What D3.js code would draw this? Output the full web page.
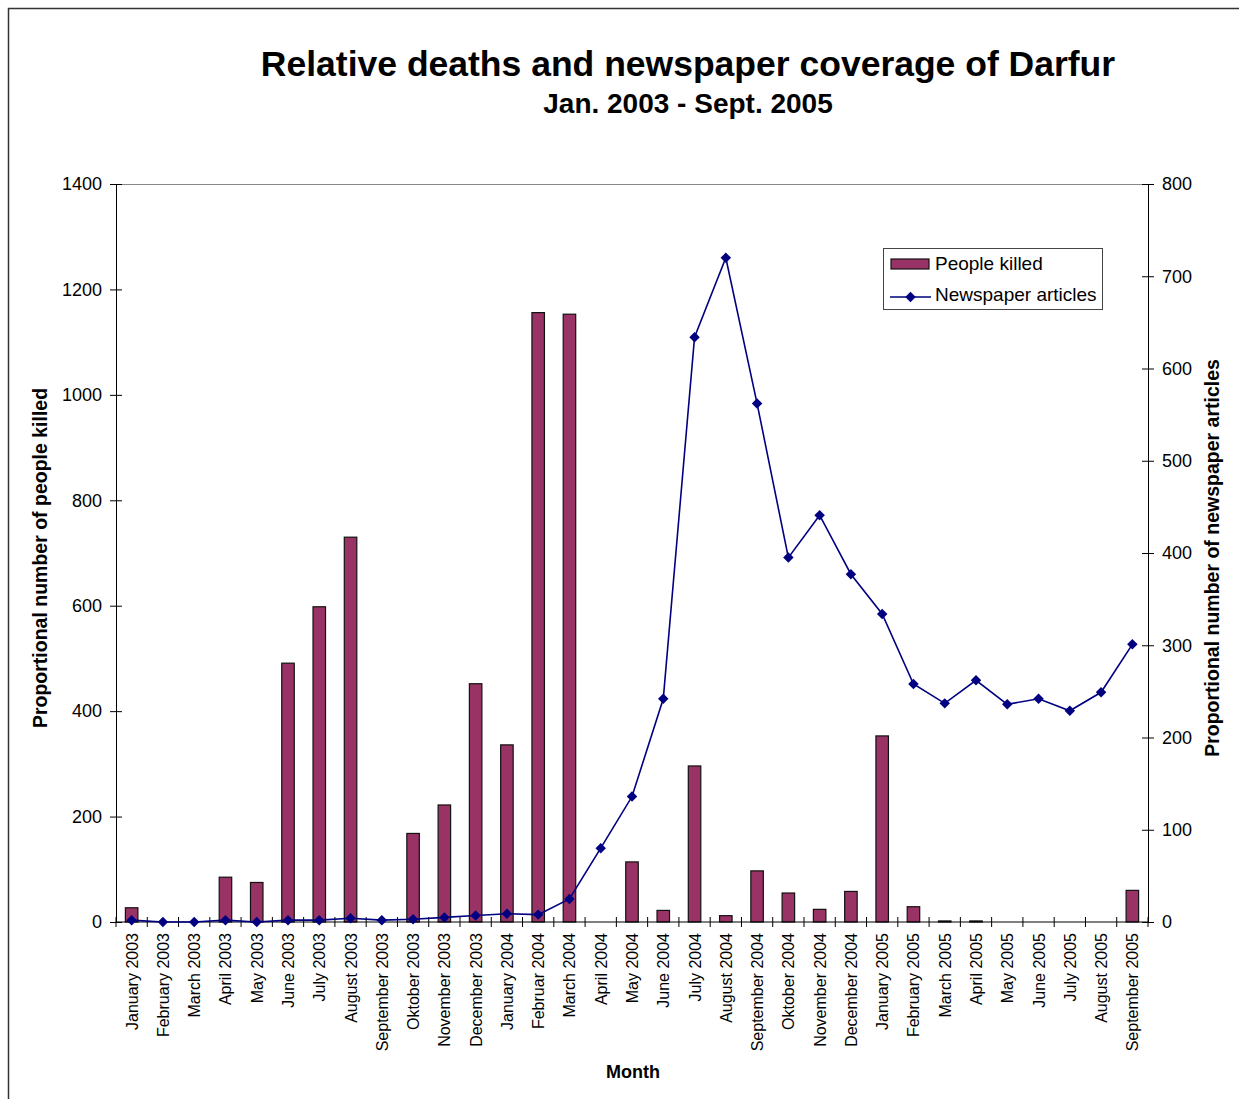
<!DOCTYPE html>
<html>
<head>
<meta charset="utf-8">
<script src="https://cdn.jsdelivr.net/npm/d3@7"></script>
<style>
  html, body { margin: 0; padding: 0; background: #fff; }
  svg { display: block; font-family: "Liberation Sans", Arial, sans-serif; }
</style>
</head>
<body>
<svg id="chart" width="1239" height="1099"></svg>
<script>
// Monthly categories, Jan 2003 – Sept 2005
const months = [
  "January 2003", "February 2003", "March 2003", "April 2003", "May 2003",
  "June 2003", "July 2003", "August 2003", "September 2003", "Oktober 2003",
  "November 2003", "December 2003", "January 2004", "Februar 2004", "March 2004",
  "April 2004", "May 2004", "June 2004", "July 2004", "August 2004",
  "September 2004", "Oktober 2004", "November 2004", "December 2004", "January 2005",
  "February 2005", "March 2005", "April 2005", "May 2005", "June 2005",
  "July 2005", "August 2005", "September 2005"
];

// Proportional number of people killed (left axis)
const peopleKilled = [
  27, 0, 0, 85, 75,
  491, 598, 730, 0, 168,
  222, 452, 336, 1156, 1153,
  0, 114, 22, 296, 12,
  97, 55, 24, 58, 353,
  29, 2, 2, 0, 0,
  0, 0, 60
];

// Proportional number of newspaper articles (right axis)
const newspaperArticles = [
  2, 0, 0, 2, 0,
  2, 2, 4, 2, 3,
  5, 7, 9, 8, 25,
  80, 136, 242, 634, 720,
  562, 395, 441, 377, 334,
  258, 237, 262, 236, 242,
  229, 249, 301
];

const leftTicks = [0, 200, 400, 600, 800, 1000, 1200, 1400];
const rightTicks = [0, 100, 200, 300, 400, 500, 600, 700, 800];

const svg = d3.select("#chart");
const plot = { left: 116, right: 1148, top: 184, bottom: 922 };
const FONT = "Liberation Sans, Arial, sans-serif";

// Outer frame
svg.append("path")
  .attr("d", "M8.5,1099 V8.5 H1239")
  .attr("fill", "none").attr("stroke", "#333").attr("stroke-width", 1.5);

// Titles
svg.append("text")
  .attr("x", 688).attr("y", 76)
  .attr("text-anchor", "middle")
  .attr("font-size", 35.5).attr("font-weight", "bold")
  .text("Relative deaths and newspaper coverage of Darfur");
svg.append("text")
  .attr("x", 688).attr("y", 113)
  .attr("text-anchor", "middle")
  .attr("font-size", 28).attr("font-weight", "bold")
  .text("Jan. 2003 - Sept. 2005");

// Scales
const x = d3.scaleBand().domain(months).range([plot.left, plot.right]);
const yL = d3.scaleLinear().domain([0, 1400]).range([plot.bottom, plot.top]);
const yR = d3.scaleLinear().domain([0, 800]).range([plot.bottom, plot.top]);

// Top border of plot area
svg.append("line")
  .attr("x1", plot.left).attr("x2", plot.right)
  .attr("y1", plot.top + 0.5).attr("y2", plot.top + 0.5)
  .attr("stroke", "#888").attr("stroke-width", 1);

// Bars
const barW = 12.5;
svg.append("g").selectAll("rect")
  .data(months.map((m, i) => ({ m, v: peopleKilled[i] })).filter(d => d.v > 0))
  .join("rect")
  .attr("x", d => x(d.m) + x.bandwidth() / 2 - barW / 2)
  .attr("y", d => yL(d.v))
  .attr("width", barW)
  .attr("height", d => yL(0) - yL(d.v))
  .attr("fill", "#993366")
  .attr("stroke", "#111").attr("stroke-width", 1.2);

// Left axis (ticks crossing the axis line)
const gL = svg.append("g").attr("transform", `translate(${plot.left},0)`)
  .call(d3.axisLeft(yL).tickValues(leftTicks).tickFormat(d3.format("d"))
    .tickSize(6).tickSizeOuter(0).tickPadding(8));
gL.selectAll(".tick line").attr("x2", 6).attr("x1", -6);
gL.selectAll("text").attr("font-size", 18).attr("font-family", FONT).attr("fill", "#000");
gL.select(".domain").attr("stroke", "#000");

// Right axis
const gR = svg.append("g").attr("transform", `translate(${plot.right},0)`)
  .call(d3.axisRight(yR).tickValues(rightTicks).tickFormat(d3.format("d"))
    .tickSize(6).tickSizeOuter(0).tickPadding(8));
gR.selectAll(".tick line").attr("x2", 6).attr("x1", -6);
gR.selectAll("text").attr("font-size", 18).attr("font-family", FONT).attr("fill", "#000");
gR.select(".domain").attr("stroke", "#000");

// Bottom axis: category ticks at band boundaries
const gB = svg.append("g").attr("transform", `translate(0,${plot.bottom})`);
gB.append("line")
  .attr("x1", plot.left).attr("x2", plot.right)
  .attr("stroke", "#000").attr("stroke-width", 1.2);
const bounds = months.map(m => x(m)).concat([plot.right]);
gB.selectAll("line.tk").data(bounds).join("line").attr("class", "tk")
  .attr("x1", d => d).attr("x2", d => d)
  .attr("y1", -5).attr("y2", 5)
  .attr("stroke", "#000");
gB.selectAll("text").data(months).join("text")
  .attr("transform", d => `translate(${x(d) + x.bandwidth() / 2 + 6},11) rotate(-90)`)
  .attr("text-anchor", "end")
  .attr("font-size", 16)
  .text(d => d);

// Newspaper articles line
const line = d3.line()
  .x((d, i) => x(months[i]) + x.bandwidth() / 2)
  .y(d => yR(d));
svg.append("path")
  .datum(newspaperArticles)
  .attr("d", line)
  .attr("fill", "none")
  .attr("stroke", "#000080").attr("stroke-width", 1.6);

const diamond = d3.symbol().type(d3.symbolDiamond2).size(70);
svg.append("g").selectAll("path")
  .data(newspaperArticles)
  .join("path")
  .attr("transform", (d, i) => `translate(${x(months[i]) + x.bandwidth() / 2},${yR(d)})`)
  .attr("d", diamond)
  .attr("fill", "#000080");

// Axis titles
svg.append("text")
  .attr("transform", "translate(47,558) rotate(-90)")
  .attr("text-anchor", "middle")
  .attr("font-size", 19.5).attr("font-weight", "bold")
  .text("Proportional number of people killed");
svg.append("text")
  .attr("transform", "translate(1219,558) rotate(-90)")
  .attr("text-anchor", "middle")
  .attr("font-size", 19.5).attr("font-weight", "bold")
  .text("Proportional number of newspaper articles");
svg.append("text")
  .attr("x", 633).attr("y", 1078)
  .attr("text-anchor", "middle")
  .attr("font-size", 18).attr("font-weight", "bold")
  .text("Month");

// Legend
const lg = svg.append("g");
lg.append("rect")
  .attr("x", 883.5).attr("y", 248.5).attr("width", 219).attr("height", 61)
  .attr("fill", "#fff").attr("stroke", "#444").attr("stroke-width", 1);
lg.append("rect")
  .attr("x", 891).attr("y", 259).attr("width", 38).attr("height", 10)
  .attr("fill", "#993366").attr("stroke", "#111").attr("stroke-width", 1.2);
lg.append("text")
  .attr("x", 935).attr("y", 270).attr("font-size", 19)
  .text("People killed");
lg.append("line")
  .attr("x1", 890).attr("x2", 931).attr("y1", 297).attr("y2", 297)
  .attr("stroke", "#000080").attr("stroke-width", 1.6);
lg.append("path")
  .attr("transform", "translate(910.5,297)")
  .attr("d", diamond).attr("fill", "#000080");
lg.append("text")
  .attr("x", 935).attr("y", 301).attr("font-size", 19)
  .text("Newspaper articles");
</script>
</body>
</html>
